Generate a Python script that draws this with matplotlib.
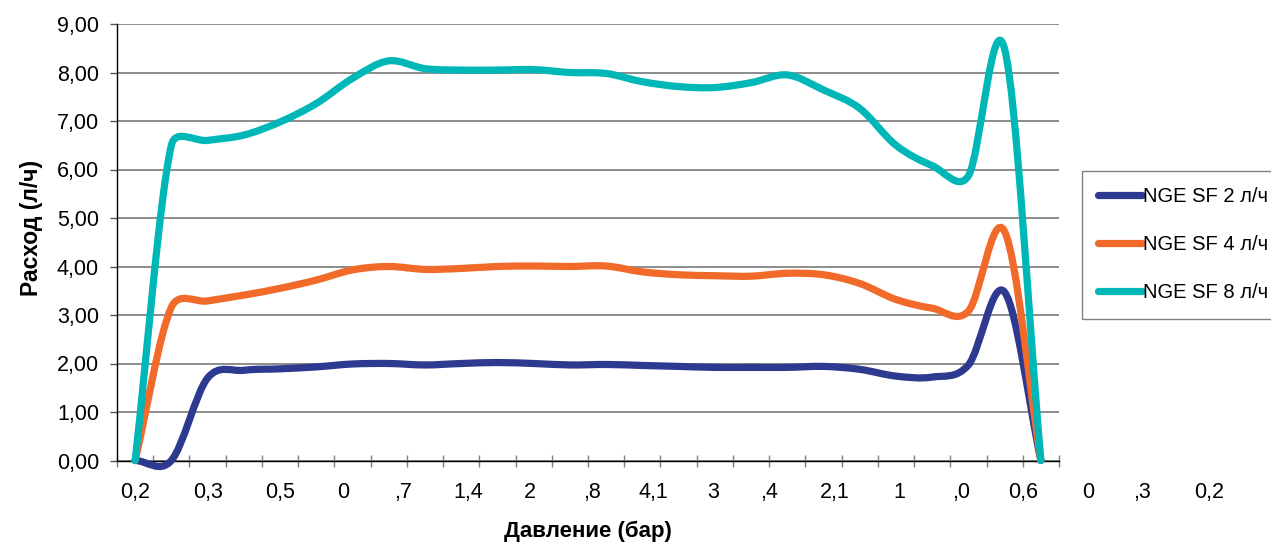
import numpy as np
import matplotlib
matplotlib.use("Agg")
import matplotlib.pyplot as plt
from matplotlib.path import Path
from matplotlib.patches import PathPatch
from matplotlib.lines import Line2D

plt.rcParams['font.family'] = ['Liberation Sans', 'DejaVu Sans']

# ------------------------------------------------------------ data
series_names = ["NGE SF 2 л/ч", "NGE SF 4 л/ч", "NGE SF 8 л/ч"]
flow_2 = [0.00, 0.00, 1.70, 1.86, 1.89, 1.93, 1.99, 2.00, 1.97, 2.00, 2.02, 2.00, 1.97,
          1.98, 1.96, 1.94, 1.92, 1.92, 1.92, 1.94, 1.88, 1.74, 1.72, 1.97, 3.47, 0.00]
flow_4 = [0.00, 3.16, 3.29, 3.41, 3.55, 3.72, 3.93, 4.00, 3.94, 3.96, 4.00, 4.01, 4.00,
          4.01, 3.89, 3.83, 3.81, 3.80, 3.86, 3.83, 3.65, 3.32, 3.14, 3.08, 4.72, 0.00]
flow_8 = [0.00, 6.50, 6.60, 6.71, 6.98, 7.36, 7.88, 8.24, 8.08, 8.05, 8.05, 8.06, 8.00,
          7.98, 7.81, 7.71, 7.69, 7.79, 7.95, 7.64, 7.26, 6.50, 6.08, 5.87, 8.48, 0.00]
x_labels = ["0,2", "0,3", "0,5", "0", ",7", "1,4", "2", ",8", "4,1",
            "3", ",4", "2,1", "1", ",0", "0,6", "0", ",3", "0,2"]
y_labels = ["0,00", "1,00", "2,00", "3,00", "4,00", "5,00", "6,00", "7,00", "8,00", "9,00"]

# layout: where the (overflowing) category labels sit, in category units
label_pos = [0, 2, 4, 5.75, 7.4, 9.2, 10.9, 12.6, 14.3, 15.95, 17.5, 19.3,
             21.1, 22.8, 24.5, 26.3, 27.8, 29.65]
colors = ["#2E3A8F", "#F26A2A", "#00B7B7"]
LW = 5.2
FS = 15.5


def smooth_path(ax, y):
    """Excel-like smoothed line: cubic Beziers, arms limited to half a segment (screen space)."""
    y = np.asarray(y, float)
    x = np.arange(len(y), dtype=float)
    P = ax.transData.transform(np.column_stack([x, y]))
    m = len(P)
    verts, codes = [P[0]], [Path.MOVETO]
    for i in range(m - 1):
        p0, p1, p2 = P[max(i - 1, 0)], P[i], P[i + 1]
        p3 = P[min(i + 2, m - 1)]
        d12 = np.hypot(*(p2 - p1))
        d02 = np.hypot(*(p2 - p0))
        d13 = np.hypot(*(p3 - p1))
        f1 = 1 / 6 if i > 0 else 1 / 3
        f2 = 1 / 6 if i + 2 < m else 1 / 3
        if d02 > 0:
            f1 = min(f1, 0.5 * d12 / d02)
        if d13 > 0:
            f2 = min(f2, 0.5 * d12 / d13)
        verts += [p1 + (p2 - p0) * f1, p2 - (p3 - p1) * f2, p2]
        codes += [Path.CURVE4] * 3
    return Path(ax.transData.inverted().transform(np.array(verts)), codes)


fig = plt.figure(figsize=(12.71, 5.45), dpi=100)
ax = fig.add_axes([117 / 1271, (545 - 460.5) / 545, (1059 - 117) / 1271, (460.5 - 24) / 545])

n = len(flow_2)
ax.set_xlim(-0.5, n - 0.5)
ax.set_ylim(0, 9)

ax.set_yticks(range(len(y_labels)))
ax.set_yticklabels(y_labels, fontsize=FS)
ax.yaxis.grid(True, color="#8C8C8C", lw=1.4)
ax.set_axisbelow(True)
ax.tick_params(axis="y", direction="out", length=5, width=1, color="#555555", pad=8)

ax.set_xticks(np.arange(-0.5, n, 1.0))
ax.set_xticklabels([])
ax.tick_params(axis="x", direction="inout", length=9, width=1, color="#808080")

for s in ("top", "right"):
    ax.spines[s].set_visible(False)
for s in ("left", "bottom"):
    ax.spines[s].set_color("black")
    ax.spines[s].set_linewidth(1.0)

for vals, c in zip([flow_2, flow_4, flow_8], colors):
    ax.add_patch(PathPatch(smooth_path(ax, vals), fill=False, edgecolor=c, lw=LW,
                           capstyle="round", joinstyle="round", clip_on=False, zorder=3))

for pos, lab in zip(label_pos, x_labels):
    ax.text(pos, -0.073, lab, transform=ax.get_xaxis_transform(), ha="center", va="center",
            fontsize=FS, clip_on=False)

ax.set_ylabel("Расход (л/ч)", fontsize=16.5, fontweight="bold")
ax.yaxis.set_label_coords(-0.079, 0.533)
ax.set_xlabel("Давление (бар)", fontsize=16, fontweight="bold")
ax.xaxis.set_label_coords(0.5, -0.137)

handles = [Line2D([], [], color=c, lw=LW, solid_capstyle="round") for c in colors]
leg = fig.legend(handles, series_names, loc="upper left",
                 bbox_to_anchor=(1081.5 / 1271, 1 - 170.5 / 545), fontsize=14.5,
                 frameon=True, fancybox=False, edgecolor="#808080", framealpha=1,
                 handlelength=2.2, handletextpad=0.05, labelspacing=1.45,
                 borderpad=0.82, borderaxespad=0)
leg.get_frame().set_linewidth(1.0)

fig.savefig("out.png", dpi=100)
